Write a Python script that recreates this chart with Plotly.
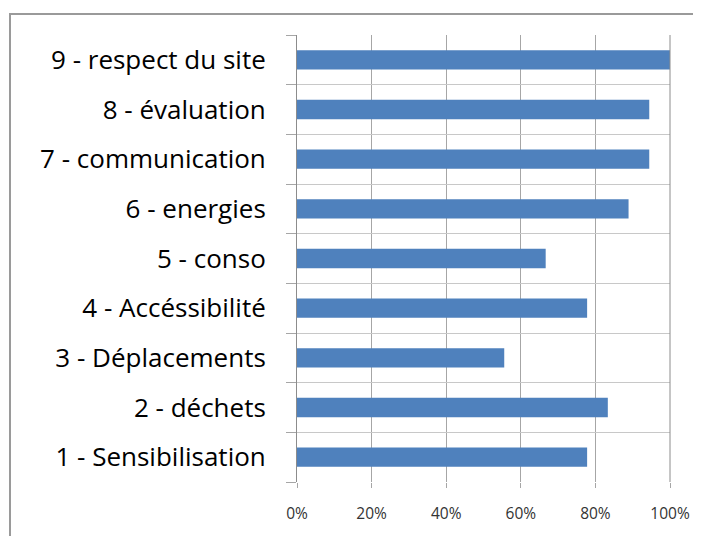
import plotly.graph_objects as go

categories = ["1 - Sensibilisation", "2 - déchets", "3 - Déplacements", "4 - Accéssibilité",
              "5 - conso", "6 - energies", "7 - communication", "8 - évaluation", "9 - respect du site"]
values = [0.7778, 0.8333, 0.5556, 0.7778, 0.6667, 0.8889, 0.9444, 0.9444, 1.0]
x_ticks = [0, 0.2, 0.4, 0.6, 0.8, 1.0]
x_tick_labels = ["0%", "20%", "40%", "60%", "80%", "100%"]

W, H = 701, 536
OFF = 8  # page body margin
L, T = 297 - OFF, 35 - OFF
pw, ph = 373, 447
R, B = W - L - pw, H - T - ph

fig = go.Figure(go.Bar(
    x=values, y=categories, orientation="h",
    marker=dict(color="#4F81BD", line=dict(width=0)),
    width=0.39,
))

fig.update_layout(
    width=W, height=H,
    margin=dict(l=L, r=R, t=T, b=B),
    paper_bgcolor="white", plot_bgcolor="white",
    showlegend=False,
    font=dict(family="Open Sans, sans-serif"),
    xaxis=dict(
        range=[0, 1], tickvals=x_ticks, ticktext=x_tick_labels,
        showgrid=True, gridcolor="#A6A6A6", gridwidth=1,
        ticks="outside", ticklen=5, tickcolor="#A6A6A6",
        tickfont=dict(size=15.5, color="#333333", family="Open Sans, sans-serif"),
        ticklabelstandoff=12,
        showline=False, zeroline=False, fixedrange=True,
    ),
    yaxis=dict(
        type="category", categoryorder="array", categoryarray=categories,
        tickson="boundaries", showgrid=True, gridcolor="#C8C8C8", gridwidth=1,
        ticks="outside", ticklen=10, tickcolor="#A6A6A6",
        showline=True, linecolor="#8C8C8C", linewidth=1,
        tickfont=dict(size=26, color="#000000", family="Open Sans, sans-serif"),
        ticklabelstandoff=25,
        zeroline=False, fixedrange=True,
    ),
    shapes=[
        dict(type="line", xref="paper", yref="paper", x0=1, x1=1, y0=0, y1=1,
             line=dict(color="#8C8C8C", width=1)),
        dict(type="rect", xref="paper", yref="paper",
             x0=(10 - OFF - L) / pw, x1=2, y0=-1, y1=(H - B - (14 - OFF)) / ph,
             line=dict(color="#9A9A9A", width=2), fillcolor="rgba(0,0,0,0)", layer="above"),
    ],
)

fig.write_html("out.html")
